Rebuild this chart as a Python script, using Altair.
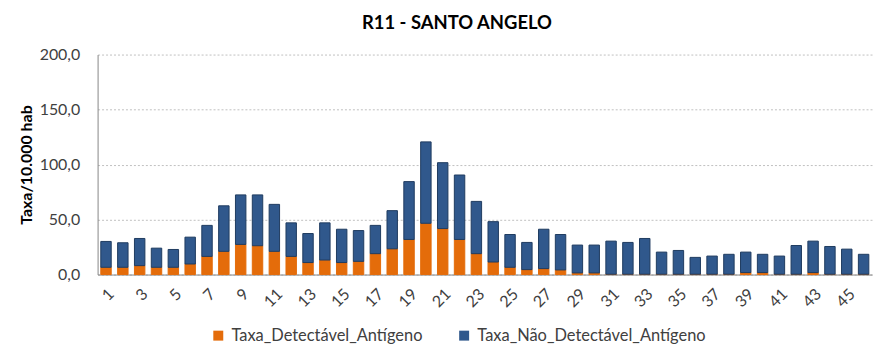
import altair as alt
import pandas as pd

weeks = list(range(1, 47))
series_names = ["Taxa_Detectável_Antígeno", "Taxa_Não_Detectável_Antígeno"]

detectavel = [6.6, 6.6, 8.1, 6.6, 6.6, 9.6, 16.5, 21.1, 27.4, 26.2,
              21.1, 16.5, 10.9, 13.2, 10.9, 12.0, 19.0, 23.4, 31.9, 46.6,
              41.8, 31.9, 19.0, 11.4, 6.6, 4.5, 5.4, 4.2, 1.5, 1.5,
              0.3, 0.3, 0.3, 0.3, 0.3, 0.3, 0.3, 0.3, 1.8, 1.8,
              0.3, 0.3, 1.8, 0.3, 0.3, 0.3]

nao_detectavel = [23.5, 22.3, 24.7, 17.4, 16.2, 24.4, 28.2, 41.4, 45.0, 46.2,
                  42.7, 30.5, 26.4, 33.8, 30.3, 28.0, 25.7, 34.7, 52.6, 74.0,
                  59.9, 58.6, 47.5, 36.7, 29.8, 24.7, 35.8, 32.2, 25.3, 25.3,
                  30.1, 28.9, 32.5, 20.1, 21.6, 15.3, 16.5, 18.1, 18.6, 16.6,
                  16.5, 26.1, 28.6, 25.2, 22.8, 18.1]

y_ticks = [0, 50, 100, 150, 200]

rows = []
for w, d, n in zip(weeks, detectavel, nao_detectavel):
    rows.append({"semana": w, "serie": series_names[0], "valor": d, "ordem": 0})
    rows.append({"semana": w, "serie": series_names[1], "valor": n, "ordem": 1})
df = pd.DataFrame(rows)

FONT = "Lato"
TXT = "#404040"

chart = alt.Chart(df).mark_bar(strokeWidth=1).encode(
    x=alt.X(
        "semana:O",
        sort=weeks,
        scale=alt.Scale(paddingInner=0.38, paddingOuter=0.19),
        axis=alt.Axis(
            title=None,
            labelAngle=-45,
            labelExpr="datum.value % 2 == 1 ? datum.label : ''",
            labelOverlap=False,
            ticks=False,
            domainColor="#868686",
            labelColor=TXT,
            labelFont=FONT,
            labelFontSize=16,
            labelPadding=11,
        ),
    ),
    y=alt.Y(
        "valor:Q",
        stack="zero",
        scale=alt.Scale(domain=[0, 200]),
        axis=alt.Axis(
            values=y_ticks,
            labelExpr="replace(format(datum.value, '.1f'), '.', ',')",
            title="Taxa/10.000 hab",
            titleFont=FONT,
            titleFontSize=16,
            titleFontWeight="bold",
            titleColor="#000000",
            titlePadding=5,
            labelFont=FONT,
            labelFontSize=16,
            labelColor=TXT,
            labelPadding=18,
            ticks=False,
            domainColor="#868686",
            gridColor="#BFBFBF",
            gridDash=[2, 2],
        ),
    ),
    color=alt.Color(
        "serie:N",
        scale=alt.Scale(domain=series_names, range=["#E46C0A", "#30588C"]),
        legend=alt.Legend(
            title=None,
            orient="none",
            legendX=113,
            legendY=274,
            direction="horizontal",
            symbolType="square",
            symbolSize=100,
            symbolStrokeWidth=0,
            labelFont=FONT,
            labelFontSize=16.5,
            labelColor=TXT,
            labelOffset=5,
            labelLimit=0,
            columnPadding=33,
        ),
    ),
    stroke=alt.Stroke(
        "serie:N",
        scale=alt.Scale(domain=series_names, range=["#E46C0A", "#1F3B60"]),
        legend=None,
    ),
    order=alt.Order("ordem:Q"),
).properties(
    width=778,
    height=221,
    padding={"left": 10, "top": 5, "right": 0, "bottom": 0},
    title=alt.TitleParams(
        "R11 - SANTO ANGELO",
        font=FONT,
        fontSize=18.5,
        fontWeight="bold",
        color="#000000",
        anchor="middle",
        dx=-28,
        offset=14,
    ),
).configure_view(stroke=None)

chart.save("out.html", embed_options={"renderer": "svg", "actions": False})
